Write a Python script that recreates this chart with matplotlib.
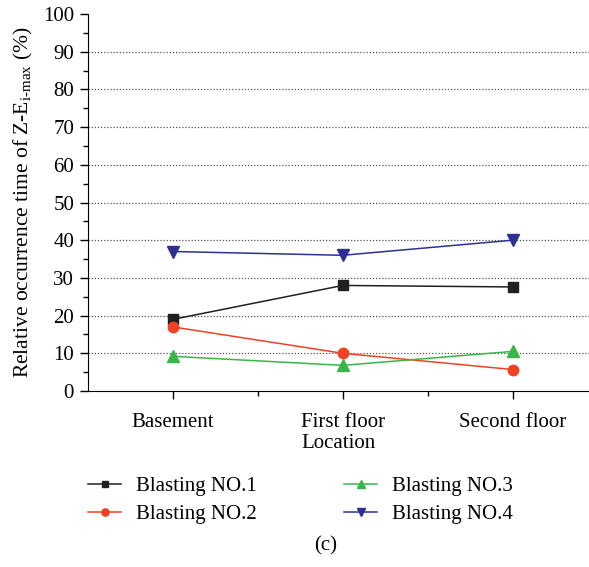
import matplotlib
matplotlib.use('Agg')
import matplotlib.pyplot as plt
from matplotlib.ticker import MultipleLocator, FixedLocator

plt.rcParams['font.family'] = ['Liberation Serif', 'DejaVu Serif']
plt.rcParams['mathtext.fontset'] = 'custom'
plt.rcParams['mathtext.rm'] = 'Liberation Serif'
plt.rcParams['mathtext.it'] = 'Liberation Serif:italic'

locations = ['Basement', 'First floor', 'Second floor']
blast1 = [19.0, 28.0, 27.6]
blast2 = [17.0, 10.0, 5.7]
blast3 = [9.2, 6.8, 10.5]
blast4 = [37.0, 36.0, 40.0]
labels = ['Blasting NO.1', 'Blasting NO.2', 'Blasting NO.3', 'Blasting NO.4']

fig = plt.figure(figsize=(5.89, 5.67), dpi=100)
ax = fig.add_axes([0.1494, 0.3104, 0.8506, 0.6649])

xs = [1, 2, 3]
h1, = ax.plot(xs, blast1, color='#231f20', marker='s', ms=7, lw=1.1)
h2, = ax.plot(xs, blast2, color='#ef4123', marker='o', ms=7.5, lw=1.1)
h3, = ax.plot(xs, blast3, color='#39b54a', marker='^', ms=8, lw=1.1)
h4, = ax.plot(xs, blast4, color='#2e3192', marker='v', ms=8, lw=1.1)

ax.set_xlim(0.5, 3.45)
ax.set_ylim(0, 100)
ax.xaxis.set_major_locator(FixedLocator(xs))
ax.xaxis.set_minor_locator(FixedLocator([1.5, 2.5]))
ax.set_xticklabels(locations)
ax.yaxis.set_major_locator(MultipleLocator(10))
ax.yaxis.set_minor_locator(MultipleLocator(5))
ax.tick_params(which='major', length=6, width=1, labelsize=15, direction='out', pad=4)
ax.tick_params(which='minor', length=3.5, width=1, direction='out')
ax.tick_params(axis='x', which='major', pad=10)

for v in range(10, 100, 10):
    ax.axhline(v, color='#555555', lw=0.9, ls=(0, (1, 1.5)), zorder=0)

ax.spines['top'].set_visible(False)
ax.spines['right'].set_visible(False)

ax.set_xlabel('Location', fontsize=15, labelpad=1)
ax.set_ylabel(r'Relative occurrence time of Z-E$_{\mathrm{i\text{-}max}}$ (%)', fontsize=15.5, labelpad=6)

fig.legend([h1, h2, h3, h4], labels, loc='center', bbox_to_anchor=(0.51, 0.117),
           ncol=2, frameon=False, fontsize=15, columnspacing=4.2, handlelength=1.6,
           handletextpad=0.7, labelspacing=0.4, markerscale=0.7)
fig.text(0.552, 0.03, '(c)', ha='center', fontsize=15)

fig.savefig('out.png', dpi=100)
